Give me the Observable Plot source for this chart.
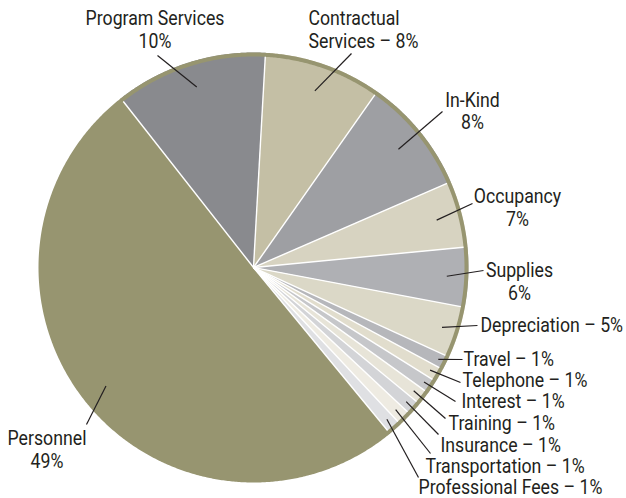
<!DOCTYPE html>
<html><head><meta charset="utf-8">
<script src="https://cdn.jsdelivr.net/npm/d3@7"></script>
<script src="https://cdn.jsdelivr.net/npm/@observablehq/plot@0.6"></script>
<style>
html,body{margin:0;padding:0;background:#fff;}
#chart svg{display:block;}
</style></head><body><div id="chart"></div>
<script>
// ---- data ----
const categories = ["Contractual Services","In-Kind","Occupancy","Supplies","Depreciation","Travel","Telephone","Interest","Training","Insurance","Transportation","Professional Fees","Personnel","Program Services"];
// slice shares (percent) as drawn in the picture
const shares = [8.86, 8.72, 5.0, 4.5, 3.86, 1.03, 1.03, 1.03, 1.03, 1.03, 1.03, 1.03, 50.37, 11.47];
const labels = ["Contractual\nServices \u2013 8%","In-Kind\n8%","Occupancy\n7%","Supplies\n6%","Depreciation \u2013 5%","Travel \u2013 1%","Telephone \u2013 1%","Interest \u2013 1%","Training \u2013 1%","Insurance \u2013 1%","Transportation \u2013 1%","Professional Fees \u2013 1%","Personnel\n49%","Program Services\n10%"];
const colors = ["#c4bfa5","#9e9fa3","#d7d3c1","#afb0b4","#dbd8c7","#b6b7bb","#e1ddcd","#c6c7ca","#e7e4d8","#d3d4d7","#eeebe2","#dfe0e3","#979570","#898a8e"];

// ---- layout ----
const W = 626, H = 498, CX = 253, CY = 267, R = 215, RING = 4;
const START_DEG = 3.2;
const RING_COLOR = "#979570";
const TEXT_COLOR = "#231f20";
const FONT_SIZE = 20, SCALE_X = 0.885, LINE_H = 1.125;
// text anchor position, leader outer end, leader inner radius fraction
const labelLayout = {
  "Contractual Services": {x:308, y:29, anchor:"start", lx:351, ly:53, rf:0.87},
  "In-Kind":              {x:472, y:110.5, anchor:"middle", lx:442, ly:111, rf:0.87},
  "Occupancy":            {x:517, y:207, anchor:"middle", lx:472, ly:203, rf:0.88},
  "Supplies":             {x:519, y:281, anchor:"middle", lx:483, ly:270, rf:0.9},
  "Depreciation":         {x:480, y:324, anchor:"start", lx:477, ly:325, rf:0.92},
  "Travel":               {x:463, y:358, anchor:"start", lx:462, ly:359, rf:0.96},
  "Telephone":            {x:462, y:379, anchor:"start", lx:460, ly:382, rf:0.95},
  "Interest":             {x:461, y:400, anchor:"start", lx:455, ly:401, rf:0.955},
  "Training":             {x:448, y:422, anchor:"start", lx:445, ly:418, rf:0.94},
  "Insurance":            {x:440, y:444, anchor:"start", lx:438, ly:434, rf:0.945},
  "Transportation":       {x:425, y:465, anchor:"start", lx:430, ly:453, rf:0.935},
  "Professional Fees":    {x:418, y:486, anchor:"start", lx:418, ly:477, rf:0.94},
  "Personnel":            {x:46.5, y:449, anchor:"middle", lx:86, ly:424, rf:0.88},
  "Program Services":     {x:154.5, y:29, anchor:"middle", lx:157, ly:55, rf:0.88}
};

const rows = categories.map((name, i) => ({name, share: shares[i], label: labels[i], color: colors[i]}));
const start = START_DEG * Math.PI / 180;
const arcs = d3.pie().sort(null).value(d => d.share).startAngle(start).endAngle(start + 2 * Math.PI)(rows);
const polar = (a, r) => ({x: CX + r * Math.sin(a), y: CY - r * Math.cos(a)});

// slice polygons
const slicePts = [];
for (const a of arcs) {
  const n = Math.max(2, Math.ceil((a.endAngle - a.startAngle) / (0.4 * Math.PI / 180)));
  slicePts.push({name: a.data.name, x: CX, y: CY});
  for (let k = 0; k <= n; ++k) {
    const t = a.startAngle + (a.endAngle - a.startAngle) * k / n;
    slicePts.push({name: a.data.name, ...polar(t, R)});
  }
  slicePts.push({name: a.data.name, x: CX, y: CY});
}
// olive rim over the non-Personnel slices
const pers = arcs.find(a => a.data.name === "Personnel");
const ringPts = [];
{
  const a0 = pers.endAngle, a1 = pers.startAngle + 2 * Math.PI;
  const n = Math.ceil((a1 - a0) / (0.4 * Math.PI / 180));
  for (let k = 0; k <= n; ++k) ringPts.push(polar(a0 + (a1 - a0) * k / n, R - RING / 2));
}
// white separators
const seps = arcs.map(a => {
  const p = polar(a.startAngle, R - RING);
  return {x1: CX, y1: CY, x2: p.x, y2: p.y};
});
// leaders
const leaders = arcs.map(a => {
  const L = labelLayout[a.data.name];
  const p = polar((a.startAngle + a.endAngle) / 2, R * L.rf);
  return {x1: L.lx, y1: L.ly, x2: p.x, y2: p.y};
});
const textRows = arcs.map(a => ({...labelLayout[a.data.name], label: a.data.label}));

const textOpts = {x: "x", y: "y", text: "label", fill: TEXT_COLOR, fontSize: FONT_SIZE, lineHeight: LINE_H, fontFamily: "Roboto, sans-serif"};

const plot = Plot.plot({
  width: W, height: H, margin: 0,
  x: {domain: [0, W], range: [0, W], axis: null},
  y: {domain: [0, H], range: [0, H], axis: null},
  color: {domain: categories, range: colors},
  marks: [
    Plot.line(slicePts, {x: "x", y: "y", z: "name", fill: "name", stroke: "none", curve: "linear"}),
    Plot.line(ringPts, {x: "x", y: "y", stroke: RING_COLOR, strokeWidth: RING, curve: "linear"}),
    Plot.link(seps, {x1: "x1", y1: "y1", x2: "x2", y2: "y2", stroke: "white", strokeWidth: 1.4}),
    Plot.link(leaders, {x1: "x1", y1: "y1", x2: "x2", y2: "y2", stroke: TEXT_COLOR, strokeWidth: 1.2}),
    Plot.text(textRows.filter(d => d.anchor === "start"), {...textOpts, textAnchor: "start"}),
    Plot.text(textRows.filter(d => d.anchor === "middle"), {...textOpts, textAnchor: "middle"})
  ]
});
document.getElementById("chart").appendChild(plot);

// condense label glyphs horizontally, about each label's own anchor point
plot.querySelectorAll('g[aria-label="text"] text').forEach(t => {
  const tr = t.getAttribute("transform") || "";
  const anchor = getComputedStyle(t).textAnchor || "start";
  const bb = t.getBBox();
  const ax = anchor === "middle" ? bb.x + bb.width / 2 : anchor === "end" ? bb.x + bb.width : bb.x;
  t.setAttribute("transform", `${tr} translate(${ax},0) scale(${SCALE_X},1) translate(${-ax},0)`);
});
</script></body></html>
